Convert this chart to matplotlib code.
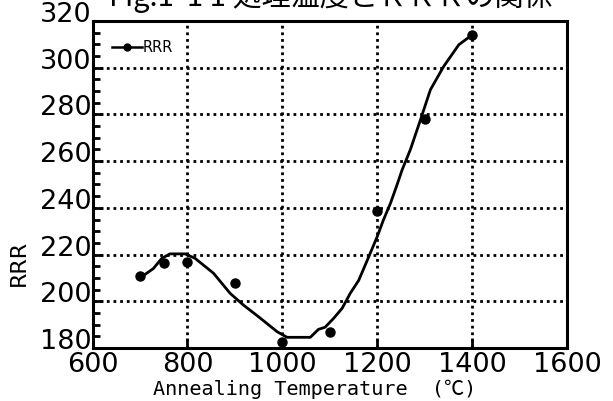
import matplotlib
matplotlib.use("Agg")
import matplotlib.pyplot as plt
from matplotlib.ticker import MultipleLocator
from matplotlib.transforms import ScaledTranslation

plt.rcParams['font.family'] = ['DejaVu Sans', 'Noto Sans CJK JP']

# measured data points
temp_pts = [700, 750, 800, 900, 1000, 1100, 1200, 1300, 1400]
rrr_pts = [211, 216.5, 217, 208, 182.7, 186.9, 238.8, 278, 314]

# hand-drawn trend curve
curve_x = [700, 728, 746, 763, 795, 816, 855, 890, 918, 946, 967, 989, 1010,
           1059, 1076, 1090, 1108, 1126, 1143, 1161, 1183, 1200, 1213, 1228,
           1242, 1252, 1270, 1291, 1312, 1340, 1372, 1400]
curve_y = [210, 214, 218.4, 220.3, 220.3, 218.4, 212, 203.4, 198.4, 194, 190.6,
           187, 184.6, 184.6, 188, 188.9, 192.7, 197, 203.4, 209, 219.5, 227.7,
           234.8, 242, 250, 256, 265, 277.6, 290.5, 300.5, 309.8, 314]

xticks = [600, 800, 1000, 1200, 1400, 1600]
yticks = [180, 200, 220, 240, 260, 280, 300, 320]

fig = plt.figure(figsize=(6.13, 4.01), dpi=100)
ax = fig.add_axes([0.151, 0.132, 0.774, 0.816])

ax.plot(curve_x, curve_y, color='black', lw=2.0, zorder=3)
ax.plot(temp_pts, rrr_pts, 'o', color='black', ms=6.5, zorder=4)
# legend proxy
ax.plot([], [], '-o', color='black', lw=1.8, ms=5, label='RRR')

ax.set_xlim(600, 1600)
ax.set_ylim(180, 320)
ax.set_xticks(xticks)
ax.set_yticks(yticks)
ax.yaxis.set_minor_locator(MultipleLocator(5))
ax.tick_params(axis='both', which='major', direction='in', length=7, width=2,
               labelsize=19.5, pad=1)
ax.tick_params(axis='y', which='minor', direction='in', length=5, width=2)
ax.tick_params(axis='x', which='major', pad=3)

# y tick labels sit just above their tick, as in the reference
offset = ScaledTranslation(0, -1 / 100, fig.dpi_scale_trans)
for tl in ax.get_yticklabels():
    tl.set_va('baseline')
    tl.set_transform(tl.get_transform() + offset)

ax.grid(True, which='major', color='black', linestyle=(0, (1, 1.4)), lw=2.0)
for s in ax.spines.values():
    s.set_linewidth(2.2)

ax.set_xlabel('Annealing Temperature  (\u2103)', fontsize=14.5,
              family=['DejaVu Sans Mono', 'Noto Sans CJK JP'])
ax.xaxis.set_label_coords(0.468, -0.095)
ax.set_ylabel('RRR', fontsize=16)
ax.yaxis.set_label_coords(-0.135, 0.26)

leg = ax.legend(loc='upper left', frameon=False, fontsize=10.5, handlelength=2.1,
                borderaxespad=0.9, handletextpad=0.0)

fig.text(0.54, 1.0 + 3 / 401, 'Fig.1  1 1 処理温度とＲＲＲの関係', ha='center',
         va='center', fontsize=21, family=['Noto Sans CJK JP'])

fig.savefig('out.png', dpi=100)
